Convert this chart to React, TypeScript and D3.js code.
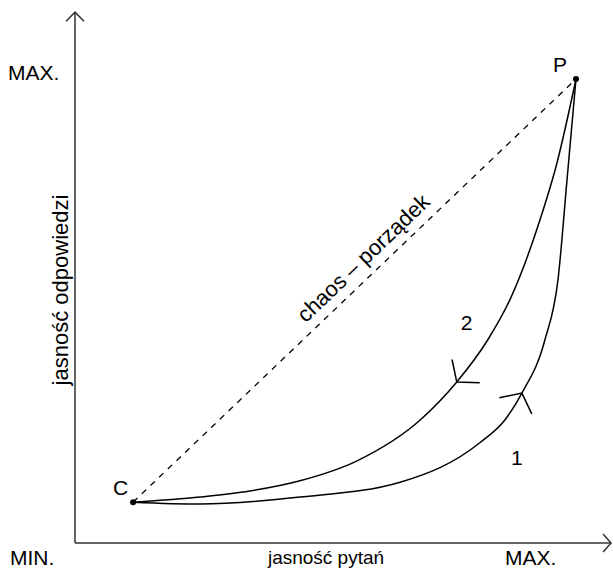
import React from "react";
import * as d3 from "d3";

const W = 613;
const H = 570;

// Points in normalized units (0 = MIN, 1 = MAX)
const pointC = { x: 0.116, y: 0.088, label: "C" };
const pointP = { x: 1.0, y: 1.0, label: "P" };

const curve1X = [0.116, 0.25, 0.449, 0.649, 0.808, 0.858, 0.892, 0.938, 0.964, 0.982, 1.0];
const curve1Y = [0.088, 0.084, 0.099, 0.131, 0.216, 0.265, 0.323, 0.438, 0.567, 0.782, 1.0];
const curve1ArrowIndex = 6; // arrow pointing toward P

const curve2X = [0.116, 0.25, 0.349, 0.449, 0.563, 0.689, 0.762, 0.824, 0.868, 0.928, 0.962, 1.0];
const curve2Y = [0.088, 0.099, 0.112, 0.134, 0.177, 0.265, 0.347, 0.438, 0.524, 0.696, 0.819, 1.0];
const curve2ArrowIndex = 6; // arrow pointing toward C

const xAxisEnd = 1.07;
const yAxisEnd = 1.144;

const tickLabels = { yMax: "MAX.", min: "MIN.", xMax: "MAX." };
const axisTitles = { x: "jasność pytań", y: "jasność odpowiedzi" };
const diagonalLabel = "chaos – porządek";
const curveLabels = ["1", "2"];

const FONT = "Liberation Sans, Arial, sans-serif";

export default function App() {
  const x = d3.scaleLinear().domain([0, 1]).range([75, 576]);
  const y = d3.scaleLinear().domain([0, 1]).range([543, 79]);

  const line = d3
    .line<[number, number]>()
    .x((d) => x(d[0]))
    .y((d) => y(d[1]))
    .curve(d3.curveMonotoneX);

  const c1: [number, number][] = curve1X.map((v, i) => [v, curve1Y[i]]);
  const c2: [number, number][] = curve2X.map((v, i) => [v, curve2Y[i]]);

  const arrow = (pts: [number, number][], idx: number, forward: boolean) => {
    const a = pts[idx - 1];
    const b = pts[idx + 1];
    const tx = x(pts[idx][0]);
    const ty = y(pts[idx][1]);
    let dx = x(b[0]) - x(a[0]);
    let dy = y(b[1]) - y(a[1]);
    if (!forward) {
      dx = -dx;
      dy = -dy;
    }
    const ang = Math.atan2(dy, dx) + Math.PI; // backward direction
    const len = 23;
    const spread = (52 * Math.PI) / 180;
    const w1 = [tx + len * Math.cos(ang + spread), ty + len * Math.sin(ang + spread)];
    const w2 = [tx + len * Math.cos(ang - spread), ty + len * Math.sin(ang - spread)];
    return `M${w1[0]},${w1[1]}L${tx},${ty}L${w2[0]},${w2[1]}`;
  };

  const ox = x(0);
  const oy = y(0);
  const xEnd = x(xAxisEnd);
  const yEnd = y(yAxisEnd);

  const cx = x(pointC.x), cy = y(pointC.y);
  const px = x(pointP.x), py = y(pointP.y);
  const diagAngle = (Math.atan2(py - cy, px - cx) * 180) / Math.PI;
  const t = 0.547;
  const mx = cx + (px - cx) * t;
  const my = cy + (py - cy) * t;

  return (
    <svg
      width={W}
      height={H}
      style={{ position: "absolute", left: 0, top: 0, background: "#fff" }}
      fontFamily={FONT}
    >
      <rect width={W} height={H} fill="#fff" />
      {/* axes */}
      <g stroke="#333" strokeWidth={1.5} fill="none">
        <line x1={ox} y1={oy} x2={xEnd} y2={oy} />
        <line x1={ox} y1={oy} x2={ox} y2={yEnd} />
        <path d={`M${xEnd - 8},${oy - 9}L${xEnd},${oy}L${xEnd - 8},${oy + 9}`} />
        <path d={`M${ox - 9},${yEnd + 9}L${ox},${yEnd}L${ox + 9},${yEnd + 9}`} />
      </g>
      {/* diagonal */}
      <line
        x1={cx}
        y1={cy}
        x2={px}
        y2={py}
        stroke="#000"
        strokeWidth={1.3}
        strokeDasharray="6,6"
      />
      {/* curves */}
      <g stroke="#000" strokeWidth={1.5} fill="none">
        <path d={line(c1) || ""} />
        <path d={line(c2) || ""} />
        <path d={arrow(c1, curve1ArrowIndex, true)} />
        <path d={arrow(c2, curve2ArrowIndex, false)} />
      </g>
      <circle cx={cx} cy={cy} r={3} fill="#000" />
      <circle cx={px} cy={py} r={3} fill="#000" />
      {/* texts */}
      <g fill="#000" fontSize={21}>
        <text x={8} y={80}>{tickLabels.yMax}</text>
        <text x={10} y={565}>{tickLabels.min}</text>
        <text x={505} y={565}>{tickLabels.xMax}</text>
        <text x={326} y={564} textAnchor="middle" fontSize={19}>{axisTitles.x}</text>
        <text x={cx - 20} y={cy - 7}>{pointC.label}</text>
        <text x={px - 23} y={py - 7}>{pointP.label}</text>
        <text x={x(curve1X[6]) - 11} y={y(curve1Y[6]) + 72}>{curveLabels[0]}</text>
        <text x={x(curve2X[6]) + 4} y={y(curve2Y[6]) - 52}>{curveLabels[1]}</text>
        <text
          transform={`translate(68,290) rotate(-90)`}
          textAnchor="middle"
          fontSize={22}
        >
          {axisTitles.y}
        </text>
        <text
          transform={`translate(${mx},${my}) rotate(${diagAngle}) translate(0,-10)`}
          textAnchor="middle"
          fontSize={22}
        >
          {diagonalLabel}
        </text>
      </g>
    </svg>
  );
}
